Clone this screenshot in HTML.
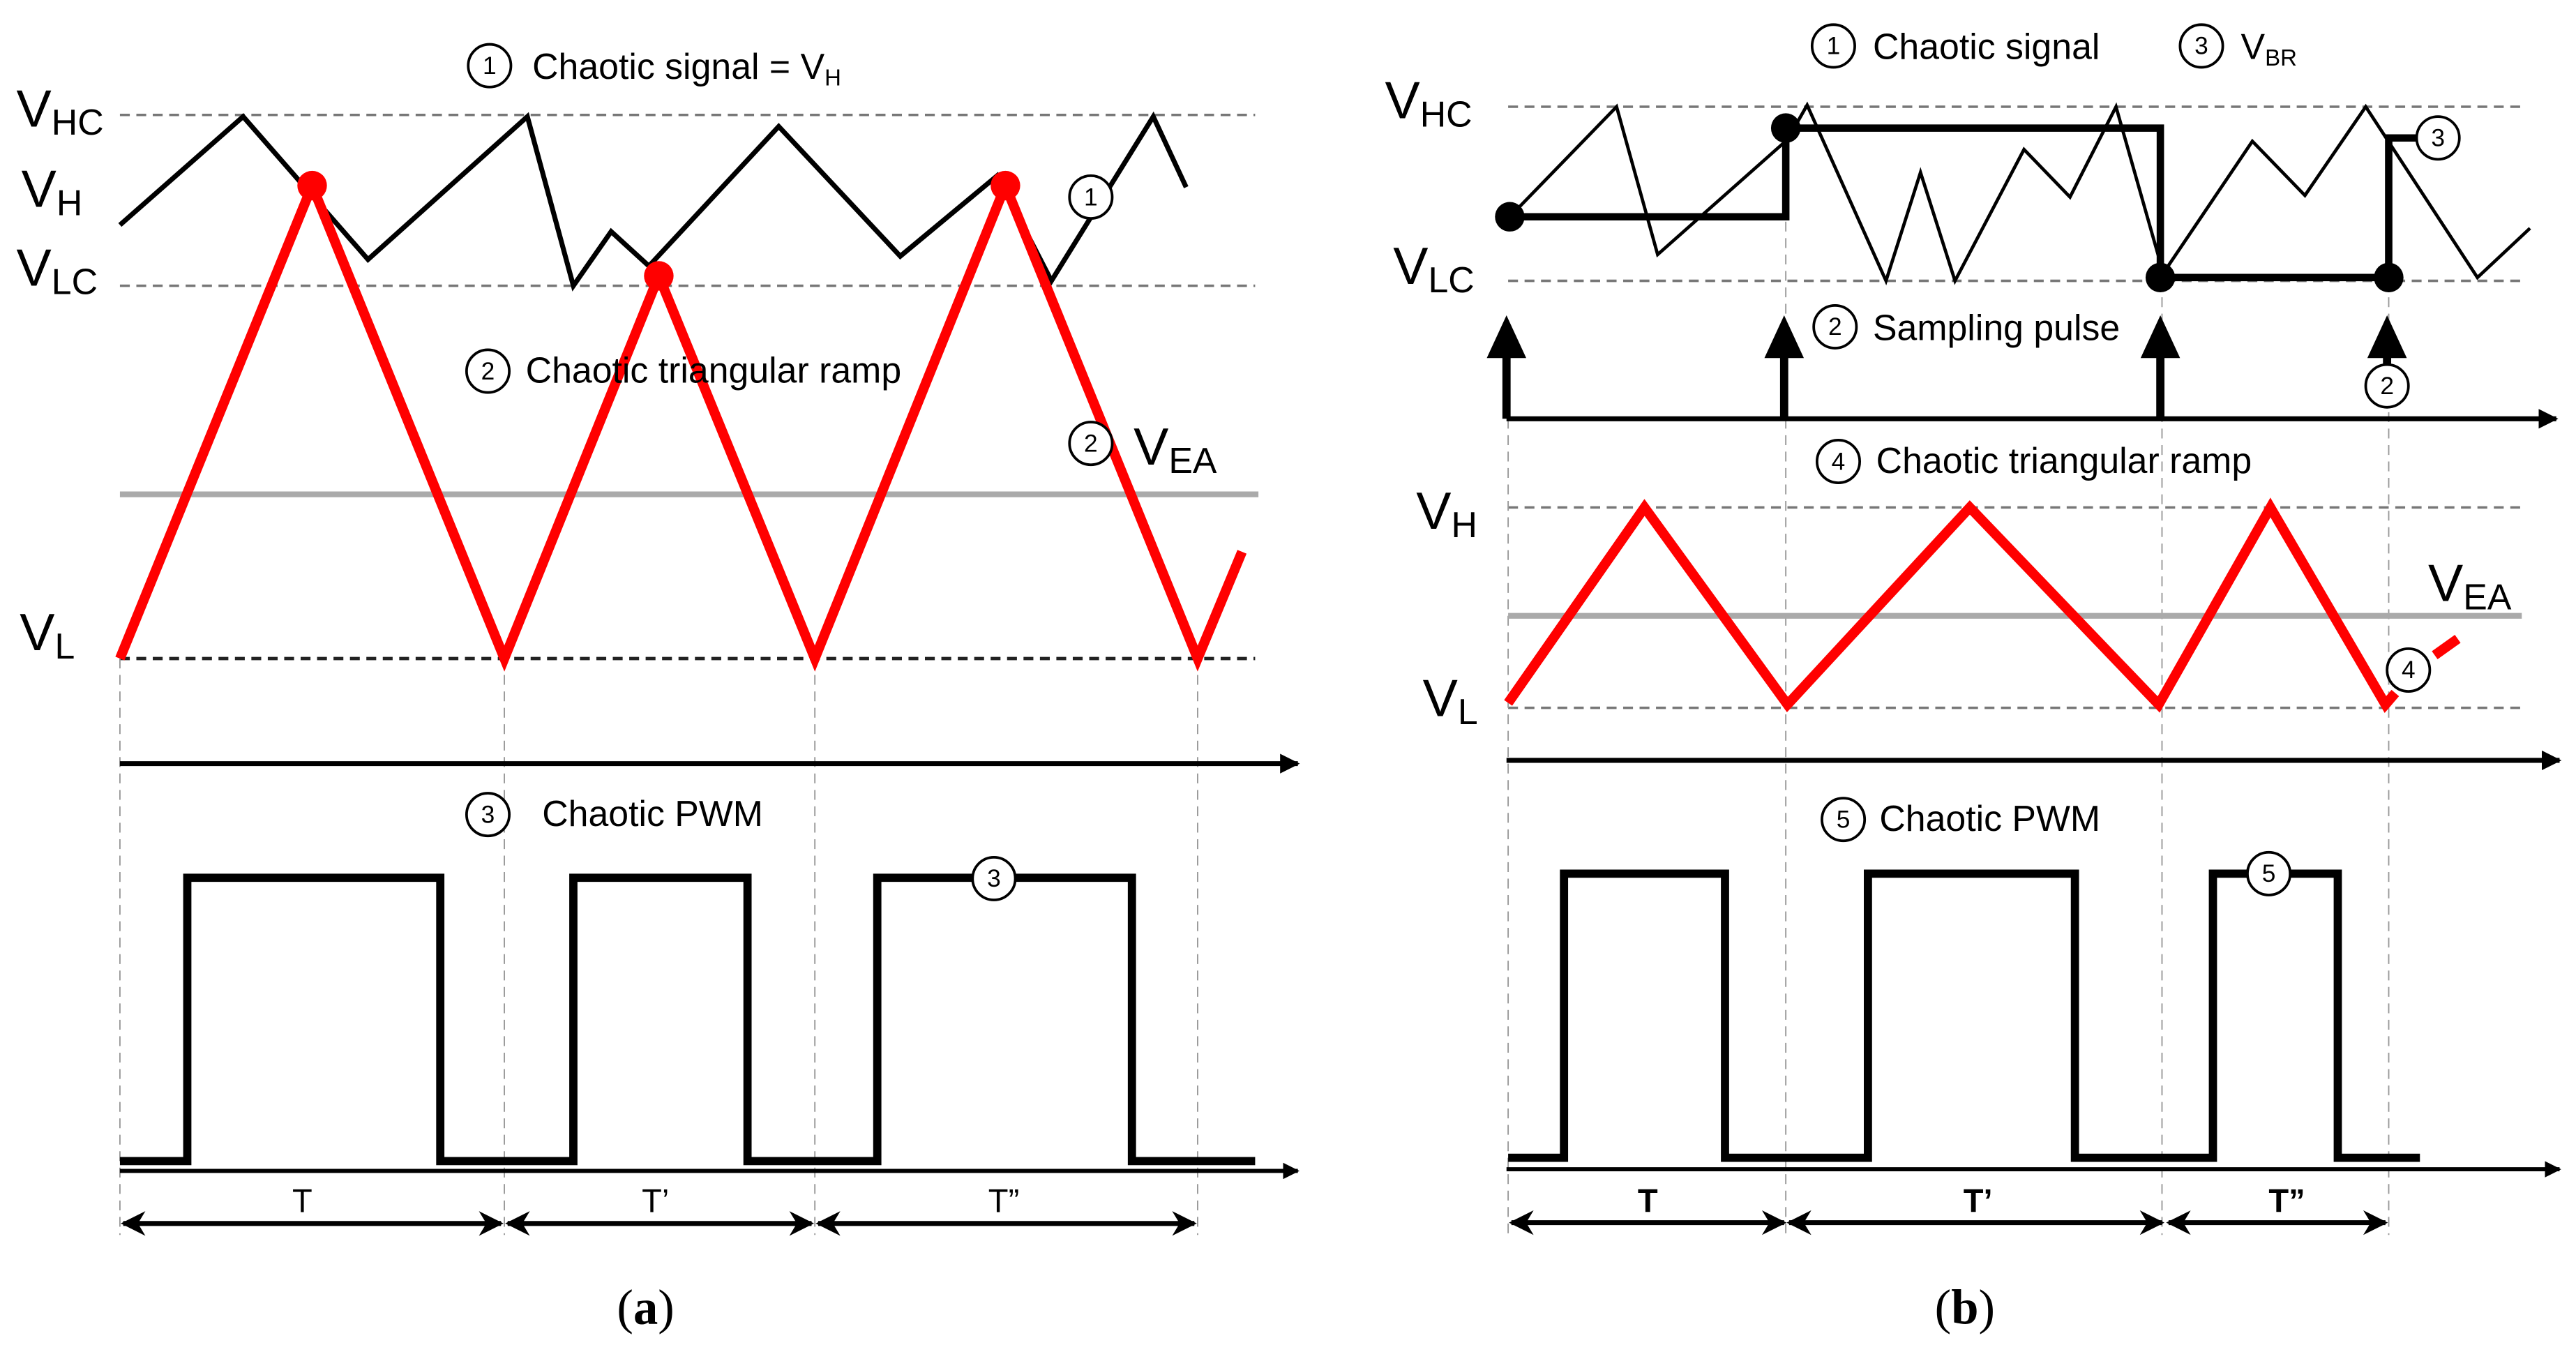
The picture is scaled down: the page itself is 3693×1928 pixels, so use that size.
<!DOCTYPE html>
<html><head><meta charset="utf-8"><style>
html,body{margin:0;padding:0;background:#fff;}
svg{display:block;}
text{font-family:"Liberation Sans",Arial,sans-serif;fill:#000;}
text.serif{font-family:"Liberation Serif","DejaVu Serif",serif;}
</style></head><body>
<svg width="3693" height="1928" viewBox="0 0 1568 819" preserveAspectRatio="none" xmlns="http://www.w3.org/2000/svg">
<defs>
<marker id="ah" viewBox="0 0 10 10" refX="9" refY="5" markerWidth="4" markerHeight="4" orient="auto" markerUnits="strokeWidth"><path d="M0,0 L10,5 L0,10 z" fill="#000"/></marker>
<marker id="ah2" viewBox="0 0 10 10" refX="9" refY="5" markerWidth="5" markerHeight="5" orient="auto-start-reverse" markerUnits="strokeWidth"><path d="M0,0 L10,5 L0,10 L3,5 z" fill="#000"/></marker>
</defs>
<g fill="none">
<!-- ===== Panel (a) ===== -->
<line x1="73" y1="70" x2="764" y2="70" stroke="#777" stroke-width="1.5" stroke-dasharray="6,4"/>
<line x1="73" y1="174" x2="764" y2="174" stroke="#777" stroke-width="1.5" stroke-dasharray="6,4"/>
<line x1="73" y1="401" x2="764" y2="401" stroke="#222" stroke-width="2" stroke-dasharray="6,4"/>
<g stroke="#999" stroke-width="0.8" stroke-dasharray="6,4">
<line x1="73" y1="401" x2="73" y2="752"/><line x1="307" y1="401" x2="307" y2="752"/>
<line x1="496" y1="401" x2="496" y2="752"/><line x1="729" y1="401" x2="729" y2="752"/>
</g>
<line x1="73" y1="301" x2="766" y2="301" stroke="#aaa" stroke-width="3.5"/>
<polyline points="73,137 148,71 224,158 321,71 349,174 372,141 395,162 474,77 548,156 607,107 640,171 702,71 722,114" stroke="#000" stroke-width="3"/>
<polyline points="73,401 190,113 307,401 401,168 496,401 612,113 729,401 756,336" stroke="#f00" stroke-width="6" stroke-linejoin="miter"/>
<circle cx="190" cy="113" r="9" fill="#f00"/><circle cx="401" cy="168" r="9" fill="#f00"/><circle cx="612" cy="113" r="9" fill="#f00"/>
<line x1="73" y1="465" x2="790" y2="465" stroke="#000" stroke-width="3" marker-end="url(#ah)"/>
<polyline points="73,707 114,707 114,534.5 268,534.5 268,707 349,707 349,534.5 455,534.5 455,707 534,707 534,534.5 689,534.5 689,707 764,707" stroke="#000" stroke-width="5"/>
<line x1="73" y1="713" x2="790" y2="713" stroke="#000" stroke-width="2.5" marker-end="url(#ah)"/>
<g stroke="#000" stroke-width="3">
<line x1="75" y1="745" x2="305" y2="745" marker-start="url(#ah2)" marker-end="url(#ah2)"/>
<line x1="309" y1="745" x2="494" y2="745" marker-start="url(#ah2)" marker-end="url(#ah2)"/>
<line x1="498" y1="745" x2="727" y2="745" marker-start="url(#ah2)" marker-end="url(#ah2)"/>
</g>
<!-- ===== Panel (b) ===== -->
<line x1="918" y1="65" x2="1535" y2="65" stroke="#777" stroke-width="1.5" stroke-dasharray="6,4"/>
<line x1="918" y1="171" x2="1535" y2="171" stroke="#777" stroke-width="1.5" stroke-dasharray="6,4"/>
<line x1="918" y1="309" x2="1535" y2="309" stroke="#777" stroke-width="1.5" stroke-dasharray="6,4"/>
<line x1="918" y1="431" x2="1535" y2="431" stroke="#777" stroke-width="1.5" stroke-dasharray="6,4"/>
<g stroke="#999" stroke-width="0.8" stroke-dasharray="6,4">
<line x1="918" y1="255" x2="918" y2="752"/><line x1="1087" y1="135" x2="1087" y2="752"/>
<line x1="1316" y1="171" x2="1316" y2="752"/><line x1="1454" y1="171" x2="1454" y2="752"/>
</g>
<polyline points="919,132 984,65 1009,155 1088,85 1100,64 1148,171 1169,105 1190,171 1232,91 1260,120 1288,65 1315,160 1315,169 1371,86 1403,119 1440,65 1508,169 1540,139" stroke="#000" stroke-width="2"/>
<polyline points="919,132 1087,132 1087,78 1315,78 1315,169 1454,169 1454,84 1478,84" stroke="#000" stroke-width="4.5"/>
<circle cx="919" cy="132" r="9" fill="#000"/><circle cx="1087" cy="78" r="9" fill="#000"/>
<circle cx="1315" cy="169" r="9" fill="#000"/><circle cx="1454" cy="169" r="9" fill="#000"/>
<line x1="917" y1="255" x2="1556" y2="255" stroke="#000" stroke-width="3" marker-end="url(#ah)"/>
<g stroke="#000" stroke-width="5">
<line x1="917" y1="255" x2="917" y2="212"/><line x1="1086" y1="255" x2="1086" y2="212"/>
<line x1="1315" y1="255" x2="1315" y2="212"/><line x1="1453" y1="222" x2="1453" y2="212"/>
</g>
<g fill="#000">
<path d="M905,218 L917,192 L929,218 z"/><path d="M1074,218 L1086,192 L1098,218 z"/>
<path d="M1303,218 L1315,192 L1327,218 z"/><path d="M1441,218 L1453,192 L1465,218 z"/>
</g>
<line x1="918" y1="375" x2="1535" y2="375" stroke="#aaa" stroke-width="3.5"/>
<polyline points="918,428 1001,309 1088,429 1199,309 1314,429 1382,309 1452,429 1458,422" stroke="#f00" stroke-width="6"/>
<line x1="1482" y1="399" x2="1496" y2="389" stroke="#f00" stroke-width="6"/>
<line x1="917" y1="463" x2="1558" y2="463" stroke="#000" stroke-width="3" marker-end="url(#ah)"/>
<polyline points="918,705 952,705 952,532 1050,532 1050,705 1137,705 1137,532 1263,532 1263,705 1347,705 1347,532 1423,532 1423,705 1473,705" stroke="#000" stroke-width="5"/>
<line x1="917" y1="712" x2="1558" y2="712" stroke="#000" stroke-width="2.5" marker-end="url(#ah)"/>
<g stroke="#000" stroke-width="3">
<line x1="920" y1="744.5" x2="1086" y2="744.5" marker-start="url(#ah2)" marker-end="url(#ah2)"/>
<line x1="1089" y1="744.5" x2="1316" y2="744.5" marker-start="url(#ah2)" marker-end="url(#ah2)"/>
<line x1="1320" y1="744.5" x2="1452" y2="744.5" marker-start="url(#ah2)" marker-end="url(#ah2)"/>
</g>
<!-- numbered circles -->
<g fill="#fff" stroke="#000" stroke-width="1.6">
<circle cx="298" cy="40" r="13"/><circle cx="664" cy="120" r="13"/><circle cx="297" cy="226" r="13"/>
<circle cx="664" cy="270" r="13"/><circle cx="297" cy="496" r="13"/><circle cx="605" cy="535" r="13"/>
<circle cx="1116" cy="28" r="13"/><circle cx="1340" cy="28" r="13"/><circle cx="1484" cy="84" r="13"/>
<circle cx="1117" cy="199" r="13"/><circle cx="1453" cy="235" r="13"/><circle cx="1119" cy="281" r="13"/>
<circle cx="1466" cy="408" r="13"/><circle cx="1122" cy="499" r="13"/><circle cx="1381" cy="532" r="13"/>
</g>
</g>
<g font-size="15" text-anchor="middle">
<text x="298" y="45">1</text><text x="664" y="125">1</text><text x="297" y="231">2</text>
<text x="664" y="275">2</text><text x="297" y="501">3</text><text x="605" y="540">3</text>
<text x="1116" y="33">1</text><text x="1340" y="33">3</text><text x="1484" y="89">3</text>
<text x="1117" y="204">2</text><text x="1453" y="240">2</text><text x="1119" y="286">4</text>
<text x="1466" y="413">4</text><text x="1122" y="504">5</text><text x="1381" y="537">5</text>
</g>
<g font-size="22">
<text x="324" y="48">Chaotic signal = V<tspan font-size="14" dy="4">H</tspan></text>
<text x="320" y="233">Chaotic triangular ramp</text>
<text x="330" y="503">Chaotic PWM</text>
<text x="1140" y="36">Chaotic signal</text>
<text x="1364" y="36">V<tspan font-size="14" dy="4">BR</tspan></text>
<text x="1140" y="207">Sampling pulse</text>
<text x="1142" y="288">Chaotic triangular ramp</text>
<text x="1144" y="506">Chaotic PWM</text>
</g>
<g font-size="32">
<text x="10" y="77">V<tspan font-size="22" dy="5">HC</tspan></text>
<text x="13" y="126">V<tspan font-size="22" dy="5">H</tspan></text>
<text x="10" y="174">V<tspan font-size="22" dy="5">LC</tspan></text>
<text x="12" y="396">V<tspan font-size="22" dy="5">L</tspan></text>
<text x="690" y="283">V<tspan font-size="22" dy="5">EA</tspan></text>
<text x="843" y="72">V<tspan font-size="22" dy="5">HC</tspan></text>
<text x="848" y="173">V<tspan font-size="22" dy="5">LC</tspan></text>
<text x="862" y="322">V<tspan font-size="22" dy="5">H</tspan></text>
<text x="866" y="436">V<tspan font-size="22" dy="5">L</tspan></text>
<text x="1478" y="366">V<tspan font-size="22" dy="5">EA</tspan></text>
</g>
<g font-size="20" text-anchor="middle">
<text x="184" y="738">T</text><text x="399" y="738">T’</text><text x="611" y="738">T”</text>
<text x="1003" y="738" font-weight="bold">T</text><text x="1204" y="738" font-weight="bold">T’</text><text x="1392" y="738" font-weight="bold">T”</text>
</g>
<g font-size="30" text-anchor="middle">
<text class="serif" x="393" y="806">(<tspan font-weight="bold">a</tspan>)</text>
<text class="serif" x="1196" y="806">(<tspan font-weight="bold">b</tspan>)</text>
</g>
</svg>
</body></html>
